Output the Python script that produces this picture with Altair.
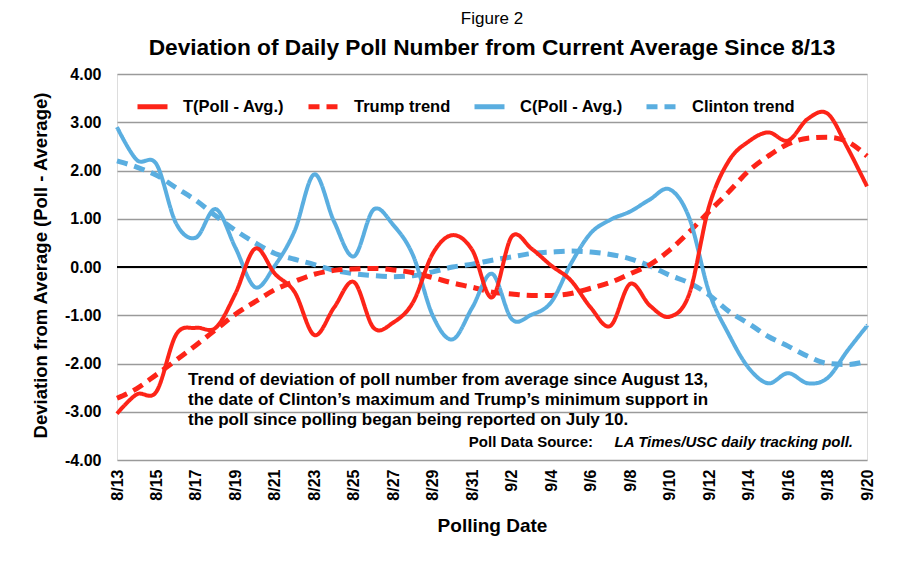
import altair as alt
import pandas as pd

# ---------------- data ----------------
dates = ["8/13", "8/14", "8/15", "8/16", "8/17", "8/18", "8/19", "8/20", "8/21", "8/22",
         "8/23", "8/24", "8/25", "8/26", "8/27", "8/28", "8/29", "8/30", "8/31",
         "9/1", "9/2", "9/3", "9/4", "9/5", "9/6", "9/7", "9/8", "9/9", "9/10",
         "9/11", "9/12", "9/13", "9/14", "9/15", "9/16", "9/17", "9/18", "9/19", "9/20"]

trump_poll = [-3.04, -2.64, -2.58, -1.40, -1.26, -1.26, -0.55, 0.38, -0.14, -0.52,
              -1.41, -0.84, -0.31, -1.26, -1.15, -0.73, 0.28, 0.66, 0.35,
              -0.63, 0.63, 0.38, 0.03, -0.28, -0.84, -1.22, -0.35, -0.80, -1.03,
              -0.55, 1.26, 2.20, 2.60, 2.79, 2.62, 3.07, 3.18, 2.48, 1.67]

trump_trend = [-2.72, -2.52, -2.23, -1.93, -1.62, -1.30, -0.98, -0.72, -0.47, -0.30,
               -0.15, -0.07, -0.04, -0.03, -0.06, -0.12, -0.22, -0.33, -0.42,
               -0.52, -0.56, -0.59, -0.59, -0.55, -0.44, -0.32, -0.14, 0.05, 0.35,
               0.73, 1.15, 1.56, 1.99, 2.30, 2.55, 2.67, 2.69, 2.60, 2.30]

clinton_poll = [2.90, 2.22, 2.13, 0.90, 0.61, 1.20, 0.40, -0.42, 0.03, 0.75,
                1.92, 0.94, 0.22, 1.19, 0.87, 0.24, -1.01, -1.50, -0.84,
                -0.14, -1.08, -0.99, -0.73, 0.07, 0.70, 0.98, 1.15, 1.40, 1.61,
                1.01, -0.52, -1.40, -2.09, -2.41, -2.20, -2.41, -2.30, -1.74, -1.22]

clinton_trend = [2.20, 2.07, 1.90, 1.64, 1.38, 1.06, 0.76, 0.50, 0.28, 0.16,
                 0.05, -0.07, -0.14, -0.18, -0.20, -0.18, -0.10, 0.00, 0.06,
                 0.14, 0.21, 0.28, 0.31, 0.33, 0.31, 0.26, 0.17, 0.02, -0.17,
                 -0.33, -0.58, -0.92, -1.17, -1.44, -1.64, -1.85, -2.00, -2.02, -1.95]

series_names = ["T(Poll - Avg.)", "Trump trend", "C(Poll - Avg.)", "Clinton trend"]
tick_labels = dates[::2]
y_ticks = [-4, -3, -2, -1, 0, 1, 2, 3, 4]

title_top = "Figure 2"
title_main = "Deviation of Daily Poll Number from Current Average Since 8/13"
note_text = ("Trend of deviation of poll number from average since August 13,\n"
             "the date of Clinton\u2019s maximum and Trump\u2019s minimum support in\n"
             "the poll since polling began being reported on July 10.")
source_label = "Poll Data Source:"
source_name = "LA Times/USC daily tracking poll."

# ---------------- styles ----------------
RED = "#fd2418"
BLUE = "#5aaee0"
series_colors = [RED, RED, BLUE, BLUE]
series_dashes = [[1, 0], [11, 7], [1, 0], [11, 7]]
SANS = "Liberation Sans, Arial, Helvetica, sans-serif"

# ---------------- long table ----------------
rows = []
for name, vals in [("Clinton trend", clinton_trend), ("Trump trend", trump_trend),
                   ("C(Poll - Avg.)", clinton_poll), ("T(Poll - Avg.)", trump_poll)]:
    for i, (d, v) in enumerate(zip(dates, vals)):
        rows.append({"date": d, "idx": i, "value": v, "series": name,
                     "kind": "trend" if "trend" in name else "poll"})
df = pd.DataFrame(rows)

legend = alt.Legend(
    orient="none", legendX=18, legendY=15, direction="horizontal", title=None,
    symbolType="stroke", symbolSize=900, symbolStrokeWidth=5,
    labelFont=SANS, labelFontSize=16.5, labelFontWeight="bold", labelColor="black",
    labelOffset=13, columnPadding=13, gridAlign="each", padding=0, labelLimit=400,
)

x_enc = alt.X("date:O", sort=dates, scale=alt.Scale(type="point", padding=0),
              axis=alt.Axis(values=tick_labels, labelAngle=270, labelFont=SANS,
                            labelFontSize=16, labelFontWeight="bold", labelColor="black",
                            labelPadding=9, ticks=False, domain=False, grid=False,
                            title="Polling Date", titleFont=SANS, titleFontSize=19,
                            titleFontWeight="bold", titleColor="black",
                            titleY=65, titleBaseline="middle"))
y_enc = alt.Y("value:Q", scale=alt.Scale(domain=[-4, 4], nice=False, zero=False),
              axis=alt.Axis(values=y_ticks,
                            labelExpr="replace(format(datum.value, '.2f'), '\u2212', '-')",
                            labelFont=SANS,
                            labelFontSize=16, labelFontWeight="bold", labelColor="black",
                            labelPadding=16, ticks=False, domain=False, grid=True,
                            gridColor="#9a9a9a", gridWidth=1.5,
                            title="Deviation from Average (Poll - Average)",
                            titleFont=SANS, titleFontSize=18.5, titleFontWeight="bold",
                            titleColor="black", titleX=-77, titleY=191,
                            titleAngle=270, titleAlign="center", titleBaseline="middle"))
color_enc = alt.Color("series:N", scale=alt.Scale(domain=series_names, range=series_colors),
                      legend=legend)
dash_enc = alt.StrokeDash("series:N", scale=alt.Scale(domain=series_names, range=series_dashes),
                          legend=legend)

base = alt.Chart(df)

zero_rule = alt.Chart(pd.DataFrame({"value": [0]})).mark_rule(
    color="black", strokeWidth=2).encode(y=alt.Y("value:Q"))

trend_lines = base.transform_filter(alt.datum.kind == "trend").mark_line(
    strokeWidth=5, interpolate="monotone").encode(
    x=x_enc, y=y_enc, color=color_enc, strokeDash=dash_enc, order=alt.Order("idx:Q"),
    detail="series:N")

poll_lines = base.transform_filter(alt.datum.kind == "poll").mark_line(
    strokeWidth=4, interpolate="cardinal").encode(
    x=x_enc, y=y_enc, color=color_enc, strokeDash=dash_enc, order=alt.Order("idx:Q"),
    detail="series:N")

one = pd.DataFrame({"k": [0]})
note = alt.Chart(one).mark_text(
    align="left", baseline="alphabetic", lineBreak="\n", lineHeight=20,
    font=SANS, fontSize=17, fontWeight="bold", color="black").encode(
    x=alt.value(71), y=alt.value(311), text=alt.value(note_text))

src1 = alt.Chart(one).mark_text(
    align="right", baseline="alphabetic", font=SANS, fontSize=15,
    fontWeight="bold", color="black").encode(
    x=alt.value(476), y=alt.value(373), text=alt.value(source_label))

src2 = alt.Chart(one).mark_text(
    align="right", baseline="alphabetic", font=SANS, fontSize=15,
    fontWeight="bold", fontStyle="italic", color="black").encode(
    x=alt.value(736), y=alt.value(373), text=alt.value(source_name))

chart = alt.layer(zero_rule, trend_lines, poll_lines, note, src1, src2).properties(
    width=750, height=386,
    padding={"left": 117, "top": 74, "right": 39, "bottom": 101},
    autosize=alt.AutoSizeParams(type="none"),
    title=alt.TitleParams(
        text=title_top, subtitle=title_main, anchor="middle",
        font=SANS, fontSize=17, fontWeight="normal", color="black",
        subtitleFont=SANS, subtitleFontSize=22.7, subtitleFontWeight="bold",
        subtitleColor="black", subtitlePadding=9, offset=5),
).configure_view(
    fill="#fdfbd7", stroke="black", strokeWidth=3
).configure(background="white")

chart.save("out.html", embed_options={"renderer": "svg", "actions": False})
